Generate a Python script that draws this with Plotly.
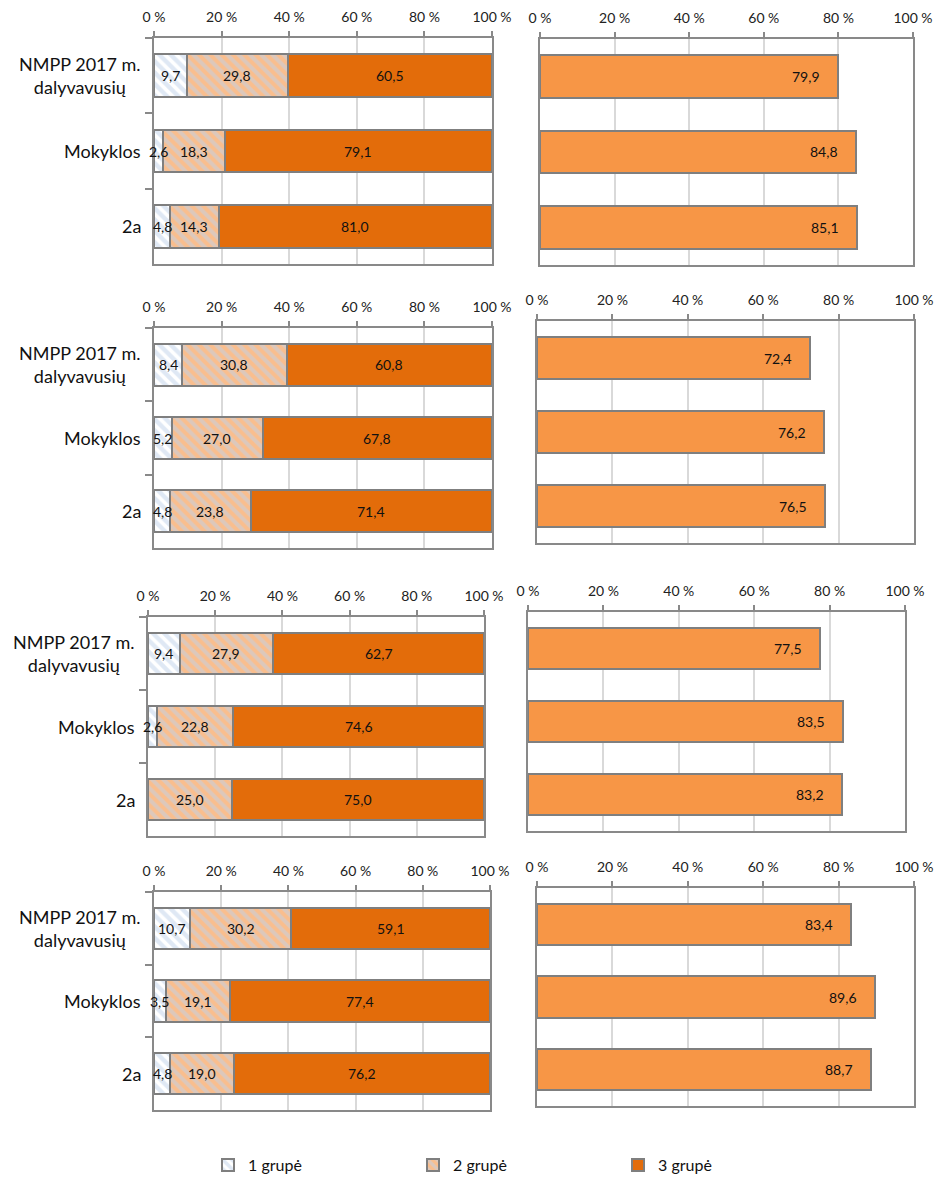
import plotly.graph_objects as go

# ---- data ----
categories = ["NMPP 2017 m. dalyvavusių", "Mokyklos", "2a"]
category_text = ["NMPP 2017 m.<br>dalyvavusių", "Mokyklos", "2a"]
series_names = ["1 grupė", "2 grupė", "3 grupė"]

group1 = [[9.7, 2.6, 4.8], [8.4, 5.2, 4.8], [9.4, 2.6, None], [10.7, 3.5, 4.8]]
group2 = [[29.8, 18.3, 14.3], [30.8, 27.0, 23.8], [27.9, 22.8, 25.0], [30.2, 19.1, 19.0]]
group3 = [[60.5, 79.1, 81.0], [60.8, 67.8, 71.4], [62.7, 74.6, 75.0], [59.1, 77.4, 76.2]]
right_values = [[79.9, 84.8, 85.1], [72.4, 76.2, 76.5], [77.5, 83.5, 83.2], [83.4, 89.6, 88.7]]

tick_vals = [0, 20, 40, 60, 80, 100]
tick_text = ["0 %", "20 %", "40 %", "60 %", "80 %", "100 %"]

# ---- layout geometry (page pixels; page body has an 8px margin) ----
PAGE_OFF = 8
W, H = 951 - PAGE_OFF, 1187 - PAGE_OFF
left_boxes = [(154, 492, 38, 264), (154, 492, 328, 548), (148, 484, 617, 836), (154, 490, 892, 1110)]
right_boxes = [(540, 913, 39, 265), (537, 914, 321, 543), (528, 905, 612, 831), (537, 914, 888, 1106)]

FONT = "Lato"
C_BLUE = "#C0D2EA"
C_G2_BG = "#F9BE8E"
C_G3 = "#E36C0A"
C_RIGHT = "#F79646"
C_EDGE = "#7F7F7F"
C_AXIS = "#898989"
C_GRID = "#D9D9D9"


def fmt(v):
    return f"{v:.1f}".replace(".", ",")


def xid(n):
    return "x" if n == 1 else f"x{n}"


def yid(n):
    return "y" if n == 1 else f"y{n}"


def dom(box):
    x0, x1, y0, y1 = [v - PAGE_OFF for v in box]
    return [x0 / W, x1 / W], [1 - y1 / H, 1 - y0 / H]


fig = go.Figure()
annotations = []

for r in range(4):
    nl = 2 * r + 1
    nr = 2 * r + 2
    for n, box in ((nl, left_boxes[r]), (nr, right_boxes[r])):
        xd, yd = dom(box)
        xa = dict(domain=xd, range=[0, 100], side="top", anchor=yid(n),
                  tickvals=tick_vals, ticktext=tick_text, ticks="outside", ticklen=5,
                  tickcolor=C_AXIS, tickwidth=1.5, showgrid=True, gridcolor=C_GRID, gridwidth=1.5,
                  showline=True, linecolor=C_AXIS, linewidth=2, mirror=True, zeroline=False,
                  tickfont=dict(family=FONT, size=14, color="#222"), ticklabelstandoff=3,
                  automargin=False, fixedrange=True)
        ya = dict(domain=yd, type="category", categoryorder="array", categoryarray=categories,
                  autorange="reversed", anchor=xid(n), showticklabels=False,
                  showline=True, linecolor=C_AXIS, linewidth=2, mirror=True, showgrid=False,
                  automargin=False, fixedrange=True)
        if n == nl:
            ya.update(ticks="outside", tickson="boundaries", ticklen=7, tickcolor=C_AXIS, tickwidth=1.5)
        else:
            ya.update(ticks="")
        xkey = "xaxis" if n == 1 else f"xaxis{n}"
        ykey = "yaxis" if n == 1 else f"yaxis{n}"
        fig.update_layout(**{xkey: xa, ykey: ya})

    # left stacked bars
    g1 = [v if v is not None else 0 for v in group1[r]]
    fig.add_trace(go.Bar(
        y=categories, x=g1, orientation="h", name=series_names[0], legendgroup="g1",
        showlegend=(r == 0), xaxis=xid(nl), yaxis=yid(nl),
        marker=dict(color="white", line=dict(color=C_EDGE, width=2),
                    pattern=dict(shape="\\", bgcolor="white", fgcolor=C_BLUE, size=8, solidity=0.55)),
        hoverinfo="skip"))
    fig.add_trace(go.Bar(
        y=categories, x=group2[r], orientation="h", name=series_names[1], legendgroup="g2",
        showlegend=(r == 0), xaxis=xid(nl), yaxis=yid(nl),
        marker=dict(color=C_G2_BG, line=dict(color=C_EDGE, width=2),
                    pattern=dict(shape="\\", bgcolor=C_G2_BG, fgcolor=C_BLUE, size=8, solidity=0.5)),
        hoverinfo="skip"))
    fig.add_trace(go.Bar(
        y=categories, x=group3[r], orientation="h", name=series_names[2], legendgroup="g3",
        showlegend=(r == 0), xaxis=xid(nl), yaxis=yid(nl),
        marker=dict(color=C_G3, line=dict(color=C_EDGE, width=2)),
        hoverinfo="skip"))

    # right bars
    fig.add_trace(go.Bar(
        y=categories, x=right_values[r], orientation="h", showlegend=False,
        xaxis=xid(nr), yaxis=yid(nr),
        marker=dict(color=C_RIGHT, line=dict(color=C_EDGE, width=2)),
        hoverinfo="skip"))

    # labels
    for i, cat in enumerate(categories):
        start = 0.0
        for vals in (group1[r], group2[r], group3[r]):
            v = vals[i]
            if v is None:
                continue
            annotations.append(dict(x=start + v / 2, y=cat, xref=xid(nl), yref=yid(nl),
                                    text=fmt(v), showarrow=False, xanchor="center",
                                    font=dict(family=FONT, size=14, color="#111")))
            start += v
        annotations.append(dict(x=0, y=cat, xref=f"{xid(nl)} domain", yref=yid(nl),
                                text=category_text[i], showarrow=False, xanchor="right",
                                align="center", xshift=-11,
                                font=dict(family=FONT, size=18, color="#111")))
        v = right_values[r][i]
        annotations.append(dict(x=v, y=cat, xref=xid(nr), yref=yid(nr),
                                text=fmt(v), showarrow=False, xanchor="right", xshift=-16,
                                font=dict(family=FONT, size=14, color="#111")))

fig.update_layout(
    width=W, height=H, margin=dict(l=0, r=0, t=0, b=0, autoexpand=False),
    paper_bgcolor="white", plot_bgcolor="white",
    barmode="stack", bargap=0.43,
    annotations=annotations,
    showlegend=True,
    legend=dict(orientation="h", x=(208 - PAGE_OFF) / W, xanchor="left",
                y=1 - (1165 - PAGE_OFF) / H, yanchor="middle",
                entrywidth=160, font=dict(family=FONT, size=16, color="#111"),
                traceorder="normal", itemclick=False, itemdoubleclick=False),
    font=dict(family=FONT),
)

fig.write_html("out.html")
